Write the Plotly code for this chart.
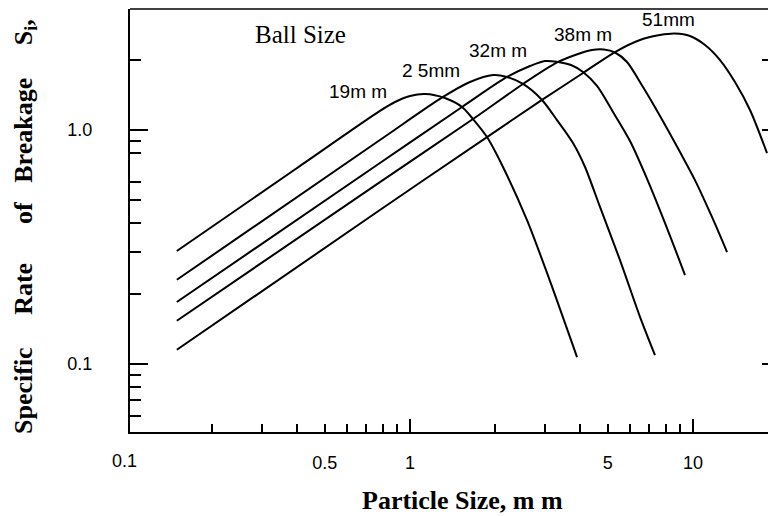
import plotly.graph_objects as go
import math

# ---------------- data ----------------
ball_sizes = ["19mm", "25mm", "32mm", "38mm", "51mm"]
label_text = ["19m m", "2 5mm", "32m m", "38m m", "51mm"]

x_19 = [0.150, 0.399, 0.783, 0.885, 1.000, 1.130, 1.329, 1.527, 1.670, 1.871, 2.131, 2.591, 3.049, 3.892]
y_19 = [0.304, 0.688, 1.206, 1.317, 1.397, 1.425, 1.370, 1.254, 1.114, 0.933, 0.695, 0.412, 0.245, 0.107]

x_25 = [0.150, 0.783, 1.308, 1.629, 1.965, 2.202, 2.508, 2.927, 3.307, 3.767, 4.154, 4.692, 5.521, 6.496, 7.339]
y_25 = [0.229, 0.906, 1.384, 1.604, 1.718, 1.685, 1.573, 1.344, 1.103, 0.880, 0.695, 0.469, 0.278, 0.159, 0.109]

x_32 = [0.150, 0.783, 1.527, 2.202, 2.655, 3.000, 3.334, 3.706, 4.087, 4.579, 5.216, 5.990, 6.934, 8.093, 9.369]
y_32 = [0.184, 0.723, 1.254, 1.685, 1.877, 1.972, 1.953, 1.896, 1.770, 1.542, 1.194, 0.897, 0.605, 0.381, 0.240]

x_38 = [0.150, 0.783, 1.670, 2.508, 3.334, 3.924, 4.397, 4.849, 5.302, 5.845, 6.658, 7.645, 8.997, 10.16, 11.67, 13.19]
y_38 = [0.153, 0.599, 1.114, 1.573, 1.953, 2.113, 2.198, 2.208, 2.144, 1.953, 1.526, 1.148, 0.805, 0.611, 0.425, 0.301]

x_51 = [0.150, 0.783, 1.871, 2.927, 4.087, 5.302, 6.496, 7.645, 8.640, 9.760, 11.03, 12.46, 14.07, 15.90, 18.26]
y_51 = [0.115, 0.455, 0.933, 1.344, 1.752, 2.154, 2.425, 2.547, 2.585, 2.522, 2.308, 1.991, 1.604, 1.218, 0.797]

series_x = [x_19, x_25, x_32, x_38, x_51]
series_y = [y_19, y_25, y_32, y_38, y_51]

x_tick_vals = [0.5, 1, 5, 10]
x_tick_text = ["0.5", "1", "5", "10"]
x_first_tick = (0.1, "0.1")
x_major_vals = [1, 10]
x_minor_vals = [0.2, 0.3, 0.4, 0.5, 0.6, 0.7, 0.8, 0.9, 2, 3, 4, 5, 6, 7, 8, 9]
y_tick_vals = [0.1, 1.0]
y_tick_text = ["0.1", "1.0"]
y_minor_vals = [0.06, 0.07, 0.08, 0.09, 0.2, 0.3, 0.4, 0.5, 0.6, 0.8, 0.9, 2]
y_right_vals = [0.1, 1, 2]

# ---------------- layout geometry (pixels) ----------------
W, H = 768, 516
L, R, T, B = 130, 768, 9, 432
X_ZERO, X_DEC = 410, 283      # pixel of x=1, pixels per decade
Y_ZERO, Y_DEC = 130, 234      # pixel of y=1, pixels per decade

def px2paper(px, py):
    return (px - L) / (R - L), (B - py) / (B - T)

x_range = [(L - X_ZERO) / X_DEC, (R - X_ZERO) / X_DEC]
y_range = [(Y_ZERO - B) / Y_DEC, (Y_ZERO - T) / Y_DEC]

serif = "Liberation Serif, Times New Roman, serif"
sans = "Liberation Sans, Arial, sans-serif"

fig = go.Figure()
for xs, ys, name in zip(series_x, series_y, ball_sizes):
    fig.add_trace(go.Scatter(x=xs, y=ys, mode="lines", name=name,
                             line=dict(color="black", width=2, shape="spline", smoothing=0.8),
                             showlegend=False, hoverinfo="x+y+name"))

# invisible helper traces for the label axis and the right-hand ticks
fig.add_trace(go.Scatter(x=[1], y=[1], xaxis="x2", mode="markers",
                         marker=dict(opacity=0), showlegend=False, hoverinfo="skip"))
fig.add_trace(go.Scatter(x=[1], y=[1], yaxis="y2", mode="markers",
                         marker=dict(opacity=0), showlegend=False, hoverinfo="skip"))

fig.update_layout(
    width=W, height=H,
    margin=dict(l=L, r=W - R, t=T, b=H - B),
    paper_bgcolor="white", plot_bgcolor="white",
    xaxis=dict(type="log", range=x_range,
               showgrid=False, zeroline=False, showline=True, linecolor="black", linewidth=2,
               ticks="inside", ticklen=13, tickwidth=1.5, tickcolor="black",
               tickmode="array", tickvals=x_major_vals, showticklabels=False,
               minor=dict(tickmode="array", tickvals=x_minor_vals, ticks="inside",
                          ticklen=8, tickwidth=1.5, tickcolor="black", showgrid=False)),
    xaxis2=dict(type="log", overlaying="x", anchor="y", side="bottom",
                range=x_range, showgrid=False, zeroline=False, showline=False, ticks="",
                tickmode="array", tickvals=x_tick_vals, ticktext=x_tick_text,
                tickfont=dict(family=sans, size=18, color="black"), ticklabelstandoff=18),
    yaxis=dict(type="log", range=y_range,
               showgrid=False, zeroline=False, showline=True, linecolor="black", linewidth=2,
               ticks="inside", ticklen=18, tickwidth=1.5, tickcolor="black",
               tickmode="array", tickvals=y_tick_vals, ticktext=y_tick_text,
               tickfont=dict(family=sans, size=18, color="black"), ticklabelstandoff=32,
               minor=dict(tickmode="array", tickvals=y_minor_vals, ticks="inside",
                          ticklen=11, tickwidth=1.5, tickcolor="black", showgrid=False)),
    yaxis2=dict(type="log", overlaying="y", side="right", anchor="x",
                range=y_range, showgrid=False, zeroline=False, showline=False,
                ticks="inside", ticklen=6, tickwidth=1.5, tickcolor="black",
                tickmode="array", tickvals=y_right_vals, showticklabels=False),
)

# top border
fig.add_shape(type="line", xref="paper", yref="paper", x0=0, x1=1, y0=1, y1=1,
              line=dict(color="black", width=1.5))

# the "0.1" label sits at the left end of the axis (x=0.1 lies just left of the range)
fx = X_ZERO + math.log10(x_first_tick[0]) * X_DEC
lx, ly = px2paper(fx - 3, 461)
fig.add_annotation(x=lx, y=ly, xref="paper", yref="paper",
                   text=x_first_tick[1], showarrow=False,
                   font=dict(family=sans, size=18, color="black"),
                   xanchor="center", yanchor="middle")

# curve labels
label_px = [(358, 92), (431, 70), (498, 50), (583, 35), (668, 19)]
for txt, (px, py) in zip(label_text, label_px):
    ax, ay = px2paper(px, py)
    fig.add_annotation(x=ax, y=ay, xref="paper", yref="paper", text=txt, showarrow=False,
                       font=dict(family=sans, size=19, color="black"),
                       xanchor="center", yanchor="middle")

bx, by = px2paper(300, 35)
fig.add_annotation(x=bx, y=by, xref="paper", yref="paper", text="Ball Size", showarrow=False,
                   font=dict(family=serif, size=25, color="black"),
                   xanchor="center", yanchor="middle")

# axis titles
tx, ty = px2paper(462, 500)
fig.add_annotation(x=tx, y=ty, xref="paper", yref="paper", text="<b>Particle Size, m m</b>",
                   showarrow=False, font=dict(family=serif, size=26, color="black"),
                   xanchor="center", yanchor="middle")

nb = "\u00a0"
ytitle = ("<b>Specific" + nb * 5 + "Rate" + nb * 6 + "of" + nb * 3 + "Breakage" + nb * 5
          + "S<sub>i</sub>,</b>")
yx, yy = px2paper(25, 227)
fig.add_annotation(x=yx, y=yy, xref="paper", yref="paper", text=ytitle, textangle=-90,
                   showarrow=False, font=dict(family=serif, size=26, color="black"),
                   xanchor="center", yanchor="middle")

fig.write_html("out.html", config={"displayModeBar": False},
               post_script="document.body.style.margin='0px';")
